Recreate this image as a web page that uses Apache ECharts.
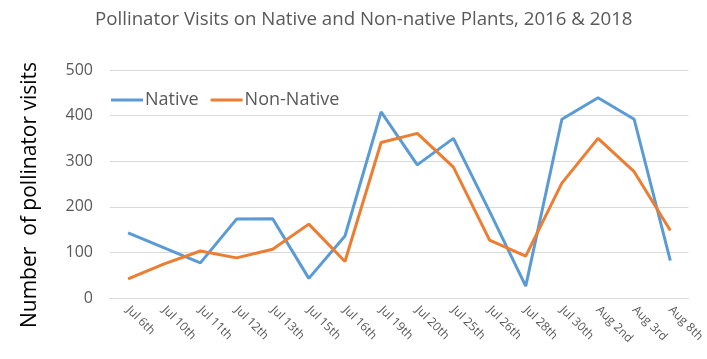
<!DOCTYPE html>
<html><head><meta charset="utf-8">
<script src="https://cdn.jsdelivr.net/npm/echarts@6/dist/echarts.min.js"></script>
<style>html,body{margin:0;padding:0;background:#fff}#c{width:707px;height:359px}</style>
</head><body><div id="c"></div>
<script>
const categories = ["Jul 6th","Jul 10th","Jul 11th","Jul 12th","Jul 13th","Jul 15th","Jul 16th","Jul 19th","Jul 20th","Jul 25th","Jul 26th","Jul 28th","Jul 30th","Aug 2nd","Aug 3rd","Aug 8th"];
const nativeVals = [143,110,77,173,174,43,136,408,292,350,190,26,392,439,392,82];
const nonNativeVals = [42,75,103,88,107,162,80,341,361,287,127,92,252,350,277,148];
const yTicks = [0,100,200,300,400,500];
const titleText = 'Pollinator Visits on Native and Non-native Plants, 2016 & 2018';
const yAxisTitle = 'Number  of pollinator visits';

const chart = echarts.init(document.getElementById('c'));
const font = '"Open Sans", "Liberation Sans", sans-serif';
chart.setOption({
  animation:false,
  backgroundColor:'#fff',
  title:{text:titleText,left:90,top:5,
    textStyle:{fontFamily:font,fontSize:18.7,fontWeight:'normal',color:'#595959'}},
  legend:{left:106,top:86,itemWidth:32,itemHeight:3,itemGap:12,icon:'rect',
    textStyle:{fontFamily:font,fontSize:18,color:'#595959',padding:[0,0,0,-3]},
    data:['Native','Non-Native']},
  graphic:[{type:'text',x:30,y:195,rotation:Math.PI/2,
    style:{text:yAxisTitle,fontFamily:font,fontSize:21,fill:'#000',align:'center',verticalAlign:'middle'}}],
  grid:{left:110,right:14,top:70,bottom:61,containLabel:false},
  xAxis:{type:'category',data:categories,boundaryGap:true,
    axisLine:{show:true,lineStyle:{color:'#d9d9d9',width:1}},axisTick:{show:false},
    axisLabel:{rotate:-45,interval:0,fontFamily:font,fontSize:12,color:'#595959',margin:10}},
  yAxis:{type:'value',min:yTicks[0],max:yTicks[yTicks.length-1],interval:100,
    axisLine:{show:false},axisTick:{show:false},
    axisLabel:{fontFamily:font,fontSize:16,color:'#595959',margin:17},
    splitLine:{lineStyle:{color:'#d9d9d9',width:1}}},
  series:[
    {name:'Native',type:'line',data:nativeVals,symbol:'none',lineStyle:{width:3,color:'#5B9BD5'},itemStyle:{color:'#5B9BD5'}},
    {name:'Non-Native',type:'line',data:nonNativeVals,symbol:'none',lineStyle:{width:3,color:'#ED7D31'},itemStyle:{color:'#ED7D31'}}
  ]
});
</script></body></html>
